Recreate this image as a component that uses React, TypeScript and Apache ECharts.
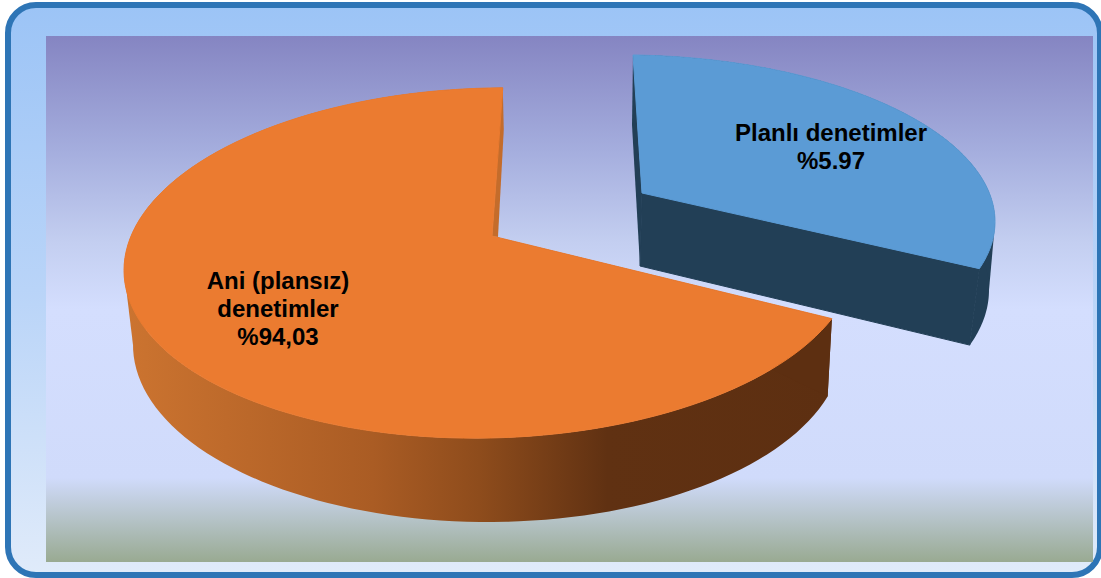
import React, { useEffect, useRef } from "react";
import * as echarts from "echarts";

// Slice shares as they are drawn in the picture, and the printed labels.
const sliceNames = ["Planlı denetimler", "Ani (plansız) denetimler"];
const sliceShares = [29.7, 70.3];
const sliceLabels = ["Planlı denetimler\n%5.97", "Ani (plansız)\ndenetimler\n%94,03"];

const W = 1101;
const H = 578;

// Hand-fitted perspective geometry of the two exploded slices.
const sliceGeometry = [
  {
    top: { cx: 633, cy: 217, rx: 362, ry: 162, tilt: 0.013 },
    bottom: { cx: 634, cy: 290, rx: 355, ry: 170, tilt: 0 },
    apexTop: [642, 193],
    apexBottom: [640, 266],
    rearDrop: [-1, 70],
    rearAtStart: true,
    startPad: 0,
    endPad: 0,
    baseStartPad: 0,
    baseEndPad: -2,
    silhouette: [-4, 0, -17],
    label: [831, 146],
  },
  {
    top: { cx: 490, cy: 263, rx: 366, ry: 175, tilt: -0.02 },
    bottom: { cx: 488, cy: 345, rx: 355, ry: 177, tilt: 0 },
    apexTop: [492, 236],
    apexBottom: [498, 237],
    rearDrop: [1, 42],
    rearAtStart: false,
    startPad: -4,
    endPad: -2,
    baseStartPad: 4,
    baseEndPad: 0,
    silhouette: [-180, -180, -160],
    label: [278, 308],
  },
];

const faceColors = ["#5b9bd5", "#eb7b30"];
const orangeWall = () =>
  new echarts.graphic.LinearGradient(
    124,
    0,
    835,
    0,
    [
      { offset: 0, color: "#cc7430" },
      { offset: 0.35, color: "#aa5c24" },
      { offset: 0.5, color: "#8e4c1c" },
      { offset: 0.68, color: "#603112" },
      { offset: 1, color: "#5d2f11" },
    ],
    true
  );
const blueWall = "#223f56";
const orangeRear = "#c46c2b";

type Ell = { cx: number; cy: number; rx: number; ry: number; tilt: number };
const pt = (e: Ell, deg: number) => {
  const a = (deg * Math.PI) / 180;
  const x = e.cx + e.rx * Math.cos(a);
  return [x, e.cy - e.ry * Math.sin(a) + e.tilt * (x - e.cx)];
};
const arc = (e: Ell, from: number, to: number) => {
  const n = 120;
  const out: number[][] = [];
  for (let i = 0; i <= n; i++) out.push(pt(e, from + ((to - from) * i) / n));
  return out;
};

const sweepOf = (index: number) => {
  const total = sliceShares.reduce((a, b) => a + b, 0);
  let start = 90;
  for (let i = 0; i < index; i++) start -= (sliceShares[i] / total) * 360;
  const end = start - (sliceShares[index] / total) * 360;
  return [start, end];
};

const renderSlice = (params: any, api: any) => {
  const i = params.dataIndex;
  const g = sliceGeometry[i];
  const [from, to] = sweepOf(i);
  const rimTop = arc(g.top, from + g.startPad, to + g.endPad);
  const rimBottom = arc(g.bottom, from + g.startPad + g.baseStartPad, to + g.endPad + g.baseEndPad);
  const rearRim = g.rearAtStart ? rimTop[0] : rimTop[rimTop.length - 1];
  const frontRim = g.rearAtStart ? rimTop[rimTop.length - 1] : rimTop[0];
  const frontBase = g.rearAtStart ? rimBottom[rimBottom.length - 1] : rimBottom[0];
  const poly = (points: number[][], fill: any, seam?: any) => ({
    type: "polygon",
    shape: { points },
    style: seam ? { fill, stroke: seam, lineWidth: 1 } : { fill },
  });
  const wallFill = i === 0 ? blueWall : orangeWall();
  const [s0, s1, s2] = g.silhouette;
  return {
    type: "group",
    children: [
      poly([pt(g.top, s0), pt(g.bottom, s1), pt(g.top, s2)], wallFill),
      poly([...rimTop, ...rimBottom.slice().reverse()], wallFill),
      poly([frontRim, g.apexTop, g.apexBottom, frontBase], i === 0 ? blueWall : "#5d2f11", i === 0 ? blueWall : undefined),
      poly(
        [rearRim, [rearRim[0] + g.rearDrop[0], rearRim[1] + g.rearDrop[1]], g.apexBottom, g.apexTop],
        i === 0 ? blueWall : orangeRear
      ),
      poly([...rimTop, g.apexTop], faceColors[i], faceColors[i]),
      {
        type: "text",
        x: g.label[0],
        y: g.label[1],
        style: {
          text: sliceLabels[i],
          fill: "#000000",
          font: 'bold 24px "Liberation Sans", Arial, sans-serif',
          lineHeight: 28,
          align: "center",
          verticalAlign: "middle",
        },
      },
    ],
  };
};

export default function App() {
  const ref = useRef<HTMLDivElement>(null);
  useEffect(() => {
    const chart = echarts.init(ref.current!, undefined, { renderer: "svg", width: W, height: H });
    chart.setOption({
      animation: false,
      backgroundColor: "#ffffff",
      graphic: [
        {
          type: "rect",
          z: -10,
          shape: { x: 8, y: 5, width: 1092, height: 570, r: 28 },
          style: {
            stroke: "#2e75b6",
            lineWidth: 6,
            fill: new echarts.graphic.LinearGradient(0, 0, 0, 1, [
              { offset: 0, color: "#9cc4f6" },
              { offset: 0.5, color: "#b9d4f8" },
              { offset: 1, color: "#e0ebfa" },
            ]),
          },
        },
        {
          type: "rect",
          z: -9,
          shape: { x: 46, y: 36, width: 1047, height: 526 },
          style: {
            fill: new echarts.graphic.LinearGradient(0, 0, 0, 1, [
              { offset: 0, color: "#8585c2" },
              { offset: 0.22, color: "#a5aede" },
              { offset: 0.39, color: "#c3cef0" },
              { offset: 0.52, color: "#d4defe" },
              { offset: 0.84, color: "#d0dbfb" },
              { offset: 1, color: "#99aa92" },
            ]),
          },
        },
      ],
      series: [
        {
          type: "custom",
          coordinateSystem: "none",
          renderItem: renderSlice,
          data: sliceShares.map((value, i) => ({ name: sliceNames[i], value })),
          silent: true,
        },
      ],
    });
    return () => chart.dispose();
  }, []);
  return <div ref={ref} style={{ position: "fixed", left: 0, top: 0, width: W, height: H }} />;
}
